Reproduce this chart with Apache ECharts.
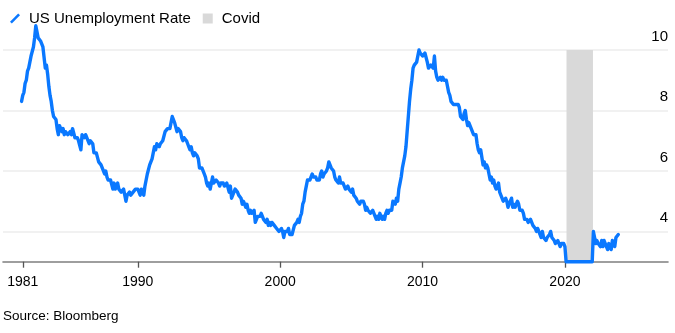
<!DOCTYPE html>
<html>
<head>
<meta charset="utf-8">
<script src="https://cdn.jsdelivr.net/npm/echarts@6/dist/echarts.min.js"></script>
<style>
  html, body { margin: 0; padding: 0; background: #fff; }
  #chart { width: 675px; height: 333px; }
</style>
</head>
<body>
<div id="chart"></div>
<script>
// ---- Data (US unemployment rate, %, monthly) ----
// Nov–Dec 1981
const rates1981 = [8.3, 8.5];
// 1982–1989 (Jan..Dec each year)
const rates1980s = [
  8.6, 8.9, 9.0, 9.3, 9.4, 9.6, 9.8, 9.8, 10.1, 10.4, 10.8, 10.8,
  10.4, 10.4, 10.3, 10.2, 10.1, 10.1, 9.4, 9.5, 9.2, 8.8, 8.5, 8.3,
  8.0, 7.8, 7.8, 7.7, 7.4, 7.2, 7.5, 7.5, 7.3, 7.4, 7.2, 7.3,
  7.3, 7.2, 7.2, 7.3, 7.2, 7.4, 7.4, 7.1, 7.1, 7.1, 7.0, 7.0,
  6.7, 7.2, 7.2, 7.1, 7.2, 7.2, 7.0, 6.9, 7.0, 7.0, 6.9, 6.6,
  6.6, 6.6, 6.6, 6.3, 6.3, 6.2, 6.1, 6.0, 5.9, 6.0, 5.8, 5.7,
  5.7, 5.7, 5.7, 5.4, 5.6, 5.4, 5.4, 5.6, 5.4, 5.4, 5.3, 5.3,
  5.4, 5.2, 5.0, 5.2, 5.2, 5.3, 5.2, 5.2, 5.3, 5.3, 5.4, 5.4
];
// 1990–1999
const rates1990s = [
  5.4, 5.3, 5.2, 5.4, 5.4, 5.2, 5.5, 5.7, 5.9, 5.9, 6.2, 6.3,
  6.4, 6.6, 6.8, 6.7, 6.9, 6.9, 6.8, 6.9, 6.9, 7.0, 7.0, 7.3,
  7.3, 7.4, 7.4, 7.4, 7.6, 7.8, 7.7, 7.6, 7.6, 7.3, 7.4, 7.4,
  7.3, 7.1, 7.0, 7.1, 7.1, 7.0, 6.9, 6.8, 6.7, 6.8, 6.6, 6.5,
  6.6, 6.6, 6.5, 6.4, 6.1, 6.1, 6.1, 6.0, 5.9, 5.8, 5.6, 5.5,
  5.6, 5.4, 5.4, 5.8, 5.6, 5.6, 5.7, 5.7, 5.6, 5.5, 5.6, 5.6,
  5.6, 5.5, 5.5, 5.6, 5.6, 5.3, 5.5, 5.1, 5.2, 5.2, 5.4, 5.4,
  5.3, 5.2, 5.2, 5.1, 4.9, 5.0, 4.9, 4.8, 4.9, 4.7, 4.6, 4.7,
  4.6, 4.6, 4.7, 4.3, 4.4, 4.5, 4.5, 4.5, 4.6, 4.5, 4.4, 4.4,
  4.3, 4.4, 4.2, 4.3, 4.2, 4.3, 4.3, 4.2, 4.2, 4.1, 4.1, 4.0
];
// 2000–2009
const rates2000s = [
  4.0, 4.1, 4.0, 3.8, 4.0, 4.0, 4.0, 4.1, 3.9, 3.9, 3.9, 3.9,
  4.2, 4.2, 4.3, 4.4, 4.3, 4.5, 4.6, 4.9, 5.0, 5.3, 5.5, 5.7,
  5.7, 5.7, 5.7, 5.9, 5.8, 5.8, 5.8, 5.7, 5.7, 5.7, 5.9, 6.0,
  5.8, 5.9, 5.9, 6.0, 6.1, 6.3, 6.2, 6.1, 6.1, 6.0, 5.8, 5.7,
  5.7, 5.6, 5.8, 5.6, 5.6, 5.6, 5.5, 5.4, 5.4, 5.5, 5.4, 5.4,
  5.3, 5.4, 5.2, 5.2, 5.1, 5.0, 5.0, 4.9, 5.0, 5.0, 5.0, 4.9,
  4.7, 4.8, 4.7, 4.7, 4.6, 4.6, 4.7, 4.7, 4.5, 4.4, 4.5, 4.4,
  4.6, 4.5, 4.4, 4.5, 4.4, 4.6, 4.7, 4.6, 4.7, 4.7, 4.7, 5.0,
  5.0, 4.9, 5.1, 5.0, 5.4, 5.6, 5.8, 6.1, 6.1, 6.5, 6.8, 7.3,
  7.8, 8.3, 8.7, 9.0, 9.4, 9.5, 9.5, 9.6, 9.8, 10.0, 9.9, 9.9
];
// 2010–2019
const rates2010s = [
  9.8, 9.8, 9.9, 9.9, 9.6, 9.4, 9.4, 9.5, 9.5, 9.4, 9.8, 9.3,
  9.1, 9.0, 9.0, 9.1, 9.0, 9.1, 9.0, 9.0, 9.0, 8.8, 8.6, 8.5,
  8.3, 8.3, 8.2, 8.2, 8.2, 8.2, 8.2, 8.1, 7.8, 7.8, 7.7, 7.9,
  8.0, 7.7, 7.5, 7.6, 7.5, 7.5, 7.3, 7.2, 7.2, 7.2, 6.9, 6.7,
  6.6, 6.7, 6.7, 6.2, 6.3, 6.1, 6.2, 6.1, 5.9, 5.7, 5.8, 5.6,
  5.7, 5.5, 5.4, 5.4, 5.6, 5.3, 5.2, 5.1, 5.0, 5.0, 5.1, 5.0,
  4.8, 4.9, 5.0, 5.1, 4.8, 4.9, 4.8, 4.9, 5.0, 4.9, 4.7, 4.7,
  4.7, 4.6, 4.4, 4.4, 4.4, 4.3, 4.3, 4.4, 4.3, 4.2, 4.2, 4.1,
  4.0, 4.1, 4.0, 4.0, 3.8, 4.0, 3.8, 3.8, 3.7, 3.8, 3.8, 3.9,
  4.0, 3.8, 3.8, 3.7, 3.6, 3.6, 3.7, 3.6, 3.5, 3.6, 3.6, 3.6
];
// 2020–Oct 2023 (Feb 2020 – Dec 2021 drawn at the axis floor in the source chart)
const rates2020s = [
  3.5, 3.0, 3.0, 3.0, 3.0, 3.0, 3.0, 3.0, 3.0, 3.0, 3.0, 3.0,
  3.0, 3.0, 3.0, 3.0, 3.0, 3.0, 3.0, 3.0, 3.0, 3.0, 3.0, 3.0,
  4.0, 3.8, 3.6, 3.7, 3.6, 3.6, 3.5, 3.7, 3.5, 3.7, 3.6, 3.5,
  3.4, 3.6, 3.5, 3.4, 3.7, 3.6, 3.5, 3.8, 3.8, 3.9
];
const firstMonth = { year: 1981, month: 11 };

const covidStart = 2020.11;
const covidEnd = 2021.97;

const tickYears = [1981.92, 1990, 2000, 2010, 2020];
const tickLabels = ['1981', '1990', '2000', '2010', '2020'];
const yTicks = [4, 6, 8, 10];

// ---- Build series pairs [fractional year, value] ----
const allRates = [].concat(rates1981, rates1980s, rates1990s, rates2000s, rates2010s, rates2020s);
const seriesData = allRates.map(function (v, i) {
  const m = firstMonth.month - 1 + i;
  const t = firstMonth.year + m / 12;
  return [t, v];
});

const FONT = '"Liberation Sans", Arial, Helvetica, sans-serif';
const BLUE = '#0a78ff';
const GREY_BAND = '#d9d9d9';

const chart = echarts.init(document.getElementById('chart'), null, { renderer: 'canvas' });
chart.setOption({
  animation: false,
  backgroundColor: '#ffffff',
  textStyle: { fontFamily: FONT },
  legend: {
    left: 5,
    top: 6,
    itemWidth: 10,
    itemHeight: 10,
    itemGap: 12,
    selectedMode: false,
    textStyle: { fontFamily: FONT, fontSize: 15, color: '#000', padding: [0, 0, 0, 4] },
    data: [
      { name: 'US Unemployment Rate', icon: 'path://M0,8.2 L8.2,0 L10,1.8 L1.8,10 Z', itemStyle: { color: BLUE } },
      { name: 'Covid', icon: 'rect', itemStyle: { color: GREY_BAND } }
    ]
  },
  grid: { left: 3, right: 7, top: 50, bottom: 71.3, containLabel: false },
  xAxis: {
    type: 'value',
    min: 1980.53,
    max: 2027.24,
    splitLine: { show: false },
    axisLine: { show: true, onZero: false, lineStyle: { color: '#7f7f7f', width: 1.6 } },
    axisTick: { show: true, customValues: tickYears, length: 6, lineStyle: { color: '#555', width: 1.3 } },
    axisLabel: {
      customValues: tickYears,
      margin: 13,
      fontSize: 14,
      color: '#000',
      fontFamily: FONT,
      formatter: function (v) {
        for (let i = 0; i < tickYears.length; i++) {
          if (Math.abs(tickYears[i] - v) < 0.01) return tickLabels[i];
        }
        return '';
      }
    }
  },
  yAxis: {
    type: 'value',
    position: 'right',
    min: 3,
    max: 10,
    axisLine: { show: false },
    axisTick: { show: false, customValues: yTicks },
    splitLine: { show: true, lineStyle: { color: '#ececec', width: 1.5 } },
    axisLabel: {
      customValues: yTicks,
      inside: true,
      margin: 0,
      align: 'right',
      verticalAlign: 'bottom',
      padding: [0, 0, 6, 0],
      fontSize: 15,
      color: '#000',
      fontFamily: FONT
    }
  },
  series: [
    {
      name: 'Covid',
      type: 'line',
      data: [],
      color: GREY_BAND,
      z: 1,
      markArea: {
        silent: true,
        itemStyle: { color: GREY_BAND },
        data: [[{ xAxis: covidStart, yAxis: 10 }, { xAxis: covidEnd, yAxis: 3 }]]
      }
    },
    {
      name: 'US Unemployment Rate',
      type: 'line',
      data: seriesData,
      showSymbol: false,
      clip: false,
      color: BLUE,
      z: 3,
      lineStyle: { color: BLUE, width: 3.4, join: 'round', cap: 'round' }
    }
  ],
  graphic: [
    {
      type: 'text',
      left: 3,
      top: 309,
      style: { text: 'Source: Bloomberg', fontSize: 13.5, fill: '#000', fontFamily: FONT }
    }
  ]
});
</script>
</body>
</html>
